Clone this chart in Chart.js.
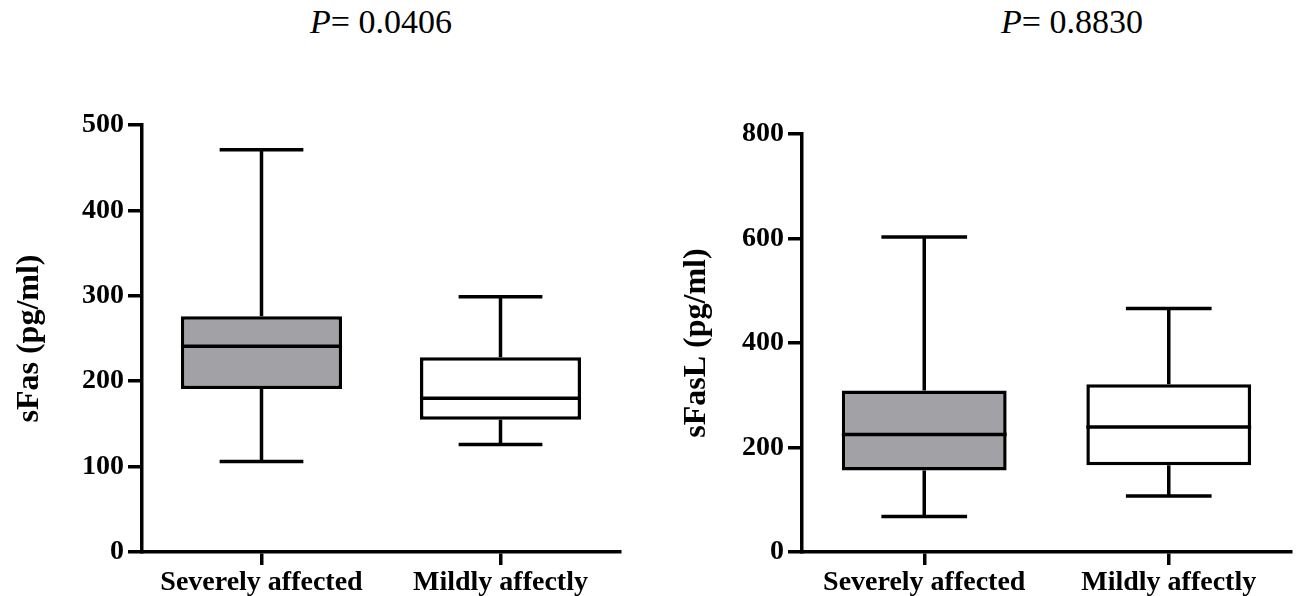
<!DOCTYPE html>
<html>
<head>
<meta charset="utf-8">
<script src="https://cdn.jsdelivr.net/npm/chart.js@4.4.1/dist/chart.umd.min.js"></script>
<style>
  body { margin: 0; background: #fff; }
  #wrap { position: relative; width: 1303px; height: 596px; overflow: hidden; }
  canvas { position: absolute; top: 0; }
  .ptitle {
    position: absolute; top: 5px; width: 300px; text-align: center;
    font-family: "Liberation Serif", "Times New Roman", serif;
    font-size: 34px; line-height: 34px; color: #000; white-space: nowrap;
  }
</style>
</head>
<body>
<div id="wrap">
  <div class="ptitle" style="left:231px"><i>P</i>= 0.0406</div>
  <div class="ptitle" style="left:922px"><i>P</i>= 0.8830</div>
  <canvas id="left" width="650" height="596" style="left:0"></canvas>
  <canvas id="right" width="653" height="596" style="left:650px"></canvas>
</div>
<script>
// box plot data
const categories = ["Severely affected", "Mildly affectly"];

const sFasMin = [106, 126];
const sFasQ1 = [191, 155];
const sFasMedian = [241, 180];
const sFasQ3 = [276, 228];
const sFasMax = [471, 299];
const sFasTicks = [0, 100, 200, 300, 400, 500];

const sFasLMin = [68, 107];
const sFasLQ1 = [156, 166];
const sFasLMedian = [225, 239];
const sFasLQ3 = [309, 321];
const sFasLMax = [603, 466];
const sFasLTicks = [0, 200, 400, 600, 800];

const boxFill = ["#a2a1a6", "#ffffff"];

Chart.defaults.font.family = "'Liberation Serif', 'Times New Roman', serif";
Chart.defaults.color = "#000";

const LINE = 3.5;


// whiskers, caps and median lines, placed through the chart scales
const whiskerPlugin = {
    id: "whiskers",
    beforeDatasetsDraw(chart){
        drawWhiskers(chart);
    },
    afterDatasetsDraw(chart){
        drawMedians(chart);
    }
};

function drawWhiskers(chart){
    const st = chart.options.plugins.whiskers;
    const ctx = chart.ctx;
    const x = chart.scales.x;
    const y = chart.scales.y;
    const meta = chart.getDatasetMeta(0);
    ctx.save();
    ctx.strokeStyle = "#000";
    ctx.lineWidth = LINE;
    st.min.forEach((v, i) => {
        const cx = x.getPixelForValue(i);
        const half = meta.data[i].width * 0.26;
        const yMin = y.getPixelForValue(st.min[i]);
        const yMax = y.getPixelForValue(st.max[i]);
        const yQ1 = y.getPixelForValue(st.q1[i]);
        const yQ3 = y.getPixelForValue(st.q3[i]);
        ctx.beginPath();
        ctx.moveTo(cx, yQ3);
        ctx.lineTo(cx, yMax);
        ctx.moveTo(cx - half, yMax);
        ctx.lineTo(cx + half, yMax);
        ctx.moveTo(cx, yQ1);
        ctx.lineTo(cx, yMin);
        ctx.moveTo(cx - half, yMin);
        ctx.lineTo(cx + half, yMin);
        ctx.stroke();
    });
    ctx.restore();
}

function drawMedians(chart){
    const st = chart.options.plugins.whiskers;
    const ctx = chart.ctx;
    const x = chart.scales.x;
    const y = chart.scales.y;
    const meta = chart.getDatasetMeta(0);
    ctx.save();
    ctx.strokeStyle = "#000";
    ctx.lineWidth = LINE;
    st.median.forEach((v, i) => {
        const cx = x.getPixelForValue(i);
        const half = meta.data[i].width / 2;
        const ym = y.getPixelForValue(v);
        ctx.beginPath();
        ctx.moveTo(cx - half, ym);
        ctx.lineTo(cx + half, ym);
        ctx.stroke();
    });
    ctx.restore();
}


function makeBoxChart(id, q1, q3, med, mn, mx, ticks, yTitle, axisWidth, pad, titlePad){

    const boxes = q1.map((v, i) => [v, q3[i]]);

    return new Chart(document.getElementById(id), {
        type: "bar",
        data: {
            labels: categories,
            datasets: [{
                data: boxes,
                backgroundColor: boxFill,
                borderColor: "#000",
                borderWidth: LINE,
                borderSkipped: false,
                categoryPercentage: 1,
                barPercentage: 0.674
            }]
        },
        options: {
            responsive: false,
            animation: false,
            devicePixelRatio: 1,
            layout: { padding: pad },
            plugins: {
                legend: { display: false },
                tooltip: { enabled: false },
                whiskers: { min: mn, q1: q1, median: med, q3: q3, max: mx }
            },
            scales: {
                x: {
                    afterFit: s => { s.height = 44; },
                    grid: {
                        offset: false,
                        drawOnChartArea: false,
                        drawTicks: true,
                        tickLength: 13,
                        lineWidth: LINE,
                        color: "#000"
                    },
                    border: { display: true, color: "#000", width: LINE },
                    ticks: {
                        padding: 1,
                        maxRotation: 0,
                        font: { size: 28, weight: "bold" }
                    }
                },
                y: {
                    min: ticks[0],
                    max: ticks[ticks.length - 1],
                    afterFit: s => { s.width = axisWidth; },
                    afterBuildTicks: s => { s.ticks = ticks.map(v => ({ value: v })); },
                    grid: {
                        drawOnChartArea: false,
                        drawTicks: true,
                        tickLength: 14,
                        lineWidth: LINE,
                        color: "#000"
                    },
                    border: { display: true, color: "#000", width: LINE },
                    ticks: {
                        padding: 4,
                        font: { size: 28, weight: "bold" }
                    },
                    title: {
                        display: true,
                        text: yTitle,
                        padding: { top: titlePad, bottom: 0 },
                        font: { size: 32, weight: "bold" }
                    }
                }
            }
        },
        plugins: [whiskerPlugin]
    });
}


makeBoxChart("left", sFasQ1, sFasQ3, sFasMedian, sFasMin, sFasMax, sFasTicks,
    "sFas (pg/ml)", 142, { top: 125, right: 30, left: 0, bottom: 0 }, 11);

makeBoxChart("right", sFasLQ1, sFasLQ3, sFasLMedian, sFasLMin, sFasLMax, sFasLTicks,
    "sFasL (pg/ml)", 152, { top: 134, right: 12, left: 0, bottom: 0 }, 28);
</script>
</body>
</html>
